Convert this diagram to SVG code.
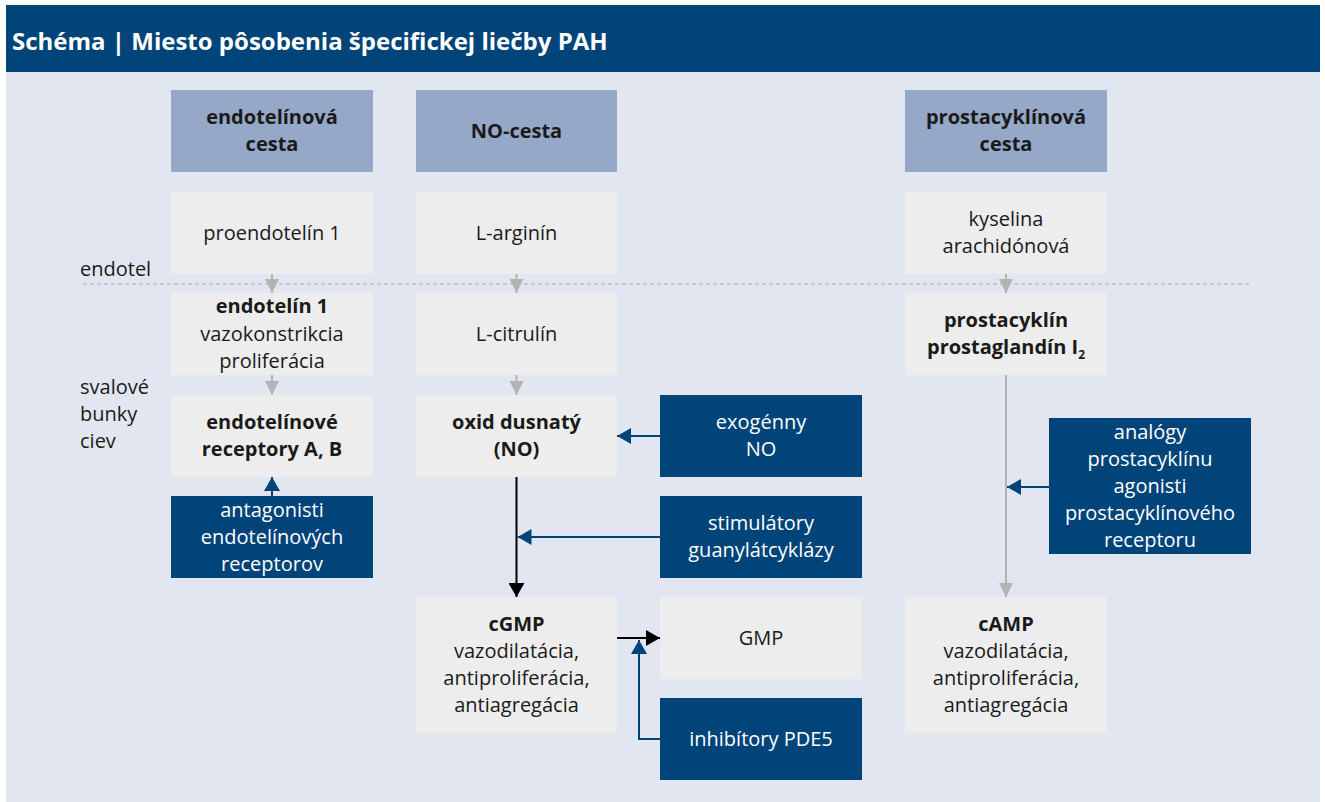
<svg xmlns="http://www.w3.org/2000/svg" width="1325" height="802" viewBox="0 0 1325 802">
<defs>
<style>
text{font-family:"Open Sans","Noto Sans",sans-serif;font-size:20px;fill:#1a1a1a;text-anchor:middle}
.b{font-weight:bold}
.w{fill:#ffffff}
.l{text-anchor:start}
.hdr{fill:#95a8c8}
.gry{fill:#ededed}
.dk{fill:#004479}
.title{font-size:24px;font-weight:bold;fill:#ffffff;text-anchor:start}
.ga{stroke:#b3b3b3;stroke-width:2;fill:none}
.ba{stroke:#000000;stroke-width:2;fill:none}
.bl{stroke:#004479;stroke-width:2;fill:none}
</style>
<marker id="mg" viewBox="0 0 14 14" markerWidth="14" markerHeight="14" markerUnits="userSpaceOnUse" refX="14" refY="7" orient="auto"><path d="M0,0 L14,7 L0,14 Z" fill="#b3b3b3"/></marker>
<marker id="mb" viewBox="0 0 14 16" markerWidth="14" markerHeight="16" markerUnits="userSpaceOnUse" refX="14" refY="8" orient="auto"><path d="M0,0 L14,8 L0,16 Z" fill="#000000"/></marker>
<marker id="ml" viewBox="0 0 14 16" markerWidth="14" markerHeight="16" markerUnits="userSpaceOnUse" refX="14" refY="8" orient="auto"><path d="M0,0 L14,8 L0,16 Z" fill="#004479"/></marker>
</defs>
<rect x="0" y="0" width="1325" height="802" fill="#ffffff"/>
<rect x="6" y="72" width="1314" height="730" fill="#e2e6f0"/>
<rect x="6" y="5" width="1314" height="67" fill="#004479"/>
<text class="title" x="12" y="50">Schéma | Miesto pôsobenia špecifickej liečby PAH</text>

<text class="l" x="80" y="276">endotel</text>
<text class="l" x="80" y="394">svalové</text>
<text class="l" x="80" y="421">bunky</text>
<text class="l" x="80" y="448">ciev</text>
<line x1="83" y1="284" x2="1251" y2="284" stroke="#a9a9a9" stroke-width="1.2" stroke-dasharray="4,3"/>

<g id="connectors">
<line class="ga" x1="272" y1="274" x2="272" y2="293" marker-end="url(#mg)"/>
<line class="ga" x1="516.5" y1="274" x2="516.5" y2="293" marker-end="url(#mg)"/>
<line class="ga" x1="1006" y1="274" x2="1006" y2="293" marker-end="url(#mg)"/>
<line class="ga" x1="272" y1="375" x2="272" y2="395" marker-end="url(#mg)"/>
<line class="ga" x1="516.5" y1="375" x2="516.5" y2="395" marker-end="url(#mg)"/>
<line class="bl" x1="272" y1="496" x2="272" y2="477" marker-end="url(#ml)"/>
<line class="bl" x1="660" y1="436" x2="617" y2="436" marker-end="url(#ml)"/>
<line class="ba" x1="516.5" y1="477" x2="516.5" y2="597" marker-end="url(#mb)"/>
<line class="bl" x1="660" y1="537" x2="517.5" y2="537" marker-end="url(#ml)"/>
<line class="ba" x1="617" y1="638" x2="660" y2="638" marker-end="url(#mb)"/>
<polyline class="bl" points="660,739 639,739 639,640" marker-end="url(#ml)"/>
<line class="ga" x1="1006" y1="375" x2="1006" y2="597" marker-end="url(#mg)"/>
<line class="bl" x1="1049" y1="487" x2="1007" y2="487" marker-end="url(#ml)"/>
</g>

<g id="n-endotelinova-cesta"><rect class="hdr" x="171" y="90" width="202" height="82"/><text class="b" x="272" y="124">endotelínová</text><text class="b" x="272" y="151">cesta</text></g>
<g id="n-no-cesta"><rect class="hdr" x="416" y="90" width="201" height="82"/><text class="b" x="516.5" y="138">NO-cesta</text></g>
<g id="n-prostacyklinova-cesta"><rect class="hdr" x="905" y="90" width="202" height="82"/><text class="b" x="1006" y="124">prostacyklínová</text><text class="b" x="1006" y="151">cesta</text></g>

<g id="n-proendotelin"><rect class="gry" x="171" y="192" width="202" height="82"/><text x="272" y="240">proendotelín 1</text></g>
<g id="n-l-arginin"><rect class="gry" x="416" y="192" width="201" height="82"/><text x="516.5" y="240">L-arginín</text></g>
<g id="n-kyselina"><rect class="gry" x="905" y="192" width="202" height="82"/><text x="1006" y="226">kyselina</text><text x="1006" y="253">arachidónová</text></g>

<g id="n-endotelin1"><rect class="gry" x="171" y="293" width="202" height="82"/><text class="b" x="272" y="313">endotelín 1</text><text x="272" y="341">vazokonstrikcia</text><text x="272" y="368">proliferácia</text></g>
<g id="n-l-citrulin"><rect class="gry" x="416" y="293" width="201" height="82"/><text x="516.5" y="341">L-citrulín</text></g>
<g id="n-prostacyklin"><rect class="gry" x="905" y="293" width="202" height="82"/><text class="b" x="1006" y="327">prostacyklín</text><text class="b" x="1006" y="354">prostaglandín I<tspan font-size="12" dy="5">2</tspan></text></g>

<g id="n-receptory"><rect class="gry" x="171" y="395" width="202" height="82"/><text class="b" x="272" y="429">endotelínové</text><text class="b" x="272" y="456">receptory A, B</text></g>
<g id="n-oxid"><rect class="gry" x="416" y="395" width="201" height="82"/><text class="b" x="516.5" y="429">oxid dusnatý</text><text class="b" x="516.5" y="456">(NO)</text></g>
<g id="n-exogenny"><rect class="dk" x="660" y="395" width="202" height="82"/><text class="w" x="761" y="429">exogénny</text><text class="w" x="761" y="456">NO</text></g>

<g id="n-antagonisti"><rect class="dk" x="171" y="496" width="202" height="82"/><text class="w" x="272" y="517">antagonisti</text><text class="w" x="272" y="544">endotelínových</text><text class="w" x="272" y="571">receptorov</text></g>
<g id="n-stimulatory"><rect class="dk" x="660" y="496" width="202" height="82"/><text class="w" x="761" y="530">stimulátory</text><text class="w" x="761" y="557">guanylátcyklázy</text></g>
<g id="n-analogy"><rect class="dk" x="1049" y="418" width="202" height="136"/><text class="w" x="1150" y="439">analógy</text><text class="w" x="1150" y="466">prostacyklínu</text><text class="w" x="1150" y="493">agonisti</text><text class="w" x="1150" y="520">prostacyklínového</text><text class="w" x="1150" y="547">receptoru</text></g>

<g id="n-cgmp"><rect class="gry" x="416" y="597" width="201" height="136"/><text class="b" x="516.5" y="631">cGMP</text><text x="516.5" y="658">vazodilatácia,</text><text x="516.5" y="685">antiproliferácia,</text><text x="516.5" y="712">antiagregácia</text></g>
<g id="n-gmp"><rect class="gry" x="660" y="597" width="202" height="82"/><text x="761" y="645">GMP</text></g>
<g id="n-camp"><rect class="gry" x="905" y="597" width="202" height="136"/><text class="b" x="1006" y="631">cAMP</text><text x="1006" y="658">vazodilatácia,</text><text x="1006" y="685">antiproliferácia,</text><text x="1006" y="712">antiagregácia</text></g>
<g id="n-pde5"><rect class="dk" x="660" y="698" width="202" height="82"/><text class="w" x="761" y="746">inhibítory PDE5</text></g>
</svg>
